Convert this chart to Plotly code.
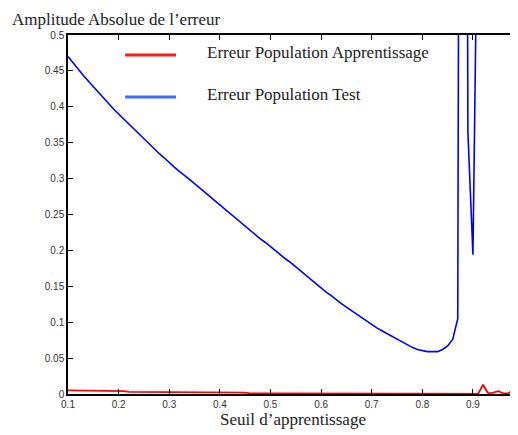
import plotly.graph_objects as go

seuils = [0.10, 0.11, 0.12, 0.13, 0.14, 0.15, 0.16, 0.17, 0.18, 0.19,
          0.20, 0.21, 0.22, 0.23, 0.24, 0.25, 0.26, 0.27, 0.28, 0.29,
          0.30, 0.31, 0.32, 0.33, 0.34, 0.35, 0.36, 0.37, 0.38, 0.39,
          0.40, 0.41, 0.42, 0.43, 0.44, 0.45, 0.46, 0.47, 0.48, 0.49,
          0.50, 0.51, 0.52, 0.53, 0.54, 0.55, 0.56, 0.57, 0.58, 0.59,
          0.60, 0.61, 0.62, 0.63, 0.64, 0.65, 0.66, 0.67, 0.68, 0.69,
          0.70, 0.71, 0.72, 0.73, 0.74, 0.75, 0.76, 0.77, 0.78, 0.79,
          0.80, 0.81, 0.82, 0.83, 0.84, 0.85, 0.86, 0.87, 0.88, 0.89,
          0.90, 0.91, 0.92, 0.93, 0.94, 0.95, 0.96, 0.97, 0.98, 0.99]

erreur_apprentissage = [0.005, 0.005, 0.004,
                        0.004, 0.004, 0.004, 0.004, 0.004, 0.004, 0.004, 0.004, 0.004,
                        0.003, 0.003, 0.003, 0.003, 0.003, 0.003, 0.003, 0.003, 0.003,
                        0.002, 0.002, 0.002, 0.002, 0.002, 0.002, 0.002, 0.002, 0.002, 0.002,
                        0.002, 0.002, 0.002, 0.002, 0.002,
                        0.001, 0.001, 0.001, 0.001, 0.001, 0.001, 0.001, 0.001, 0.001, 0.001, 0.001,
                        0.0, 0.0, 0.0, 0.0, 0.0, 0.0, 0.0, 0.0, 0.0, 0.0,
                        0.0, 0.0, 0.0, 0.0, 0.0, 0.0, 0.0, 0.0, 0.0, 0.0,
                        0.0, 0.0, 0.0, 0.0, 0.0, 0.0, 0.0, 0.0, 0.0, 0.0,
                        0.0, 0.0, 0.0, 0.0, 0.0,
                        0.013, 0.001, 0.002, 0.004, 0.001, 0.001, 0.006, 0.018]

erreur_test = [0.470, 0.461, 0.452, 0.444, 0.436, 0.428, 0.420, 0.412, 0.405, 0.397,
               0.390, 0.383, 0.376, 0.369, 0.362, 0.355, 0.348, 0.342, 0.335, 0.329,
               0.322, 0.316, 0.310, 0.305, 0.299, 0.293, 0.287, 0.281, 0.275, 0.269,
               0.263, 0.257, 0.251, 0.245, 0.240, 0.234, 0.228, 0.222, 0.216, 0.211,
               0.205, 0.199, 0.194, 0.188, 0.183, 0.177, 0.171, 0.165, 0.159, 0.153,
               0.148, 0.142, 0.137, 0.131, 0.126, 0.121, 0.116, 0.111, 0.106, 0.101,
               0.097, 0.092, 0.088, 0.084, 0.080, 0.076, 0.072, 0.069, 0.065, 0.062,
               0.060, 0.059, 0.059, 0.059, 0.062, 0.067, 0.076, 0.105, 3.0, 0.365,
               0.194, 0.75, 1.6, 2.1, 2.4, 2.6, 2.8, 3.0, 3.1, 3.2]

x_ticks = [0.1, 0.2, 0.3, 0.4, 0.5, 0.6, 0.7, 0.8, 0.9]
x_ticklabels = ["0.1", "0.2", "0.3", "0.4", "0.5", "0.6", "0.7", "0.8", "0.9"]
y_ticks = [0, 0.05, 0.1, 0.15, 0.2, 0.25, 0.3, 0.35, 0.4, 0.45, 0.5]
y_ticklabels = ["0", "0.05", "0.1", "0.15", "0.2", "0.25", "0.3", "0.35", "0.4", "0.45", "0.5"]

legend_names = ["Erreur Population Apprentissage", "Erreur Population Test"]
line_colors = ["#ff0000", "#0000ff"]
legend_colors = ["#ff1a1a", "#3d6dff"]
titre = "Amplitude Absolue de l’erreur"

serif = "Liberation Serif, Times New Roman, serif"
sans = "Liberation Sans, Arial, sans-serif"

W, H = 510, 427
ML, MT, MB = 60, 27, 41
PW, PH = W - ML, H - MT - MB

fig = go.Figure()
fig.add_trace(go.Scatter(x=seuils, y=erreur_test, mode="lines",
                         line=dict(color=line_colors[1], width=1.6),
                         name=legend_names[1], showlegend=False))
fig.add_trace(go.Scatter(x=seuils, y=erreur_apprentissage, mode="lines",
                         line=dict(color=line_colors[0], width=1.8),
                         name=legend_names[0], showlegend=False))

# manual legend
leg_y = [0.944, 0.827]
for i in range(2):
    fig.add_shape(type="line", xref="paper", yref="paper",
                  x0=0.127, x1=0.240, y0=leg_y[i], y1=leg_y[i],
                  line=dict(color=legend_colors[i], width=3))
    fig.add_annotation(xref="paper", yref="paper", x=0.304, y=leg_y[i] + 0.008,
                       text=legend_names[i], showarrow=False,
                       xanchor="left", yanchor="middle",
                       font=dict(family=serif, size=17, color="#222222"))

# chart title (top-left)
fig.add_annotation(xref="paper", yref="paper", x=(3 - ML) / PW, y=1 + (MT - 1) / PH,
                   text=titre, showarrow=False, xanchor="left", yanchor="top",
                   borderpad=0, font=dict(family=serif, size=17, color="#222222"))

fig.update_layout(
    width=W, height=H,
    margin=dict(l=ML, r=0, t=MT, b=MB),
    paper_bgcolor="white", plot_bgcolor="white",
    showlegend=False,
    xaxis=dict(range=[0.1, 0.989], tickvals=x_ticks, ticktext=x_ticklabels,
               ticks="inside", ticklen=5, tickwidth=1, tickcolor="black",
               showline=True, linecolor="black", linewidth=1.5, mirror="ticks",
               showgrid=False, zeroline=False, automargin=False,
               tickfont=dict(family=sans, size=10, color="#333333"),
               title=dict(text="Seuil d’apprentissage", standoff=4,
                          font=dict(family=serif, size=17, color="#222222"))),
    yaxis=dict(range=[0, 0.5], tickvals=y_ticks, ticktext=y_ticklabels,
               ticks="inside", ticklen=5, tickwidth=1, tickcolor="black",
               showline=True, linecolor="black", linewidth=1.5, mirror=False,
               showgrid=False, zeroline=False, automargin=False,
               tickfont=dict(family=sans, size=10, color="#333333")),
)

fig.write_html("out.html")
